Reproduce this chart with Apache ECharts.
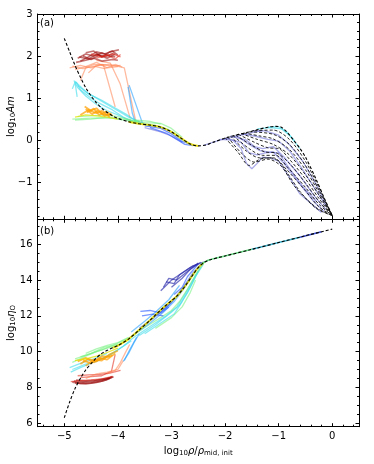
<!DOCTYPE html>
<html>
<head>
<meta charset="utf-8">
<script src="https://cdn.jsdelivr.net/npm/echarts@6/dist/echarts.min.js"></script>
<style>html,body{margin:0;padding:0;background:#fff}#chart{width:374px;height:464px}</style>
</head>
<body>
<div id="chart"></div>
<script>
// ---- data (x = log10 rho/rho_mid,init) ----
var xMajor = [-5, -4, -3, -2, -1, 0];
var topYMajor = [-1, 0, 1, 2, 3];
var botYMajor = [6, 8, 10, 12, 14, 16];

// panel (a): log10 Am
var topMain = [[-5,2.42],[-4.9,2.1],[-4.8,1.78],[-4.7,1.5],[-4.6,1.25],[-4.5,1.05],[-4.4,0.89],[-4.3,0.76],[-4.2,0.66],[-4.1,0.58],[-4,0.52],[-3.8,0.44],[-3.6,0.39],[-3.4,0.36],[-3.2,0.31],[-3,0.2],[-2.8,0.03],[-2.65,-0.09],[-2.5,-0.135],[-2.35,-0.11],[-2.2,-0.04],[-2,0.05],[-1.8,0.12],[-1.6,0.18],[-1.4,0.25],[-1.2,0.31],[-1.05,0.33],[-0.95,0.31],[-0.85,0.2],[-0.72,0],[-0.6,-0.2],[-0.5,-0.4],[-0.3,-0.93],[-0.13,-1.43],[0,-1.79]];
var topFan = [
  [[-1.45,0.23],[-1.1,0.24],[-0.8,0.02],[-0.5,-0.5],[-0.25,-1.12],[0,-1.79]],
  [[-1.55,0.2],[-1.1,0.14],[-0.8,-0.1],[-0.5,-0.6],[-0.25,-1.18],[0,-1.79]],
  [[-1.65,0.17],[-1.35,0.1],[-1.1,0.03],[-0.8,-0.22],[-0.5,-0.7],[-0.25,-1.24],[0,-1.79]],
  [[-1.7,0.16],[-1.4,0.02],[-1.1,-0.1],[-0.8,-0.35],[-0.5,-0.82],[-0.25,-1.3],[0,-1.79]],
  [[-1.75,0.14],[-1.45,-0.05],[-1.2,-0.18],[-1,-0.2],[-0.8,-0.45],[-0.5,-0.92],[-0.25,-1.38],[0,-1.79]],
  [[-1.8,0.12],[-1.5,-0.12],[-1.25,-0.28],[-1.05,-0.3],[-0.8,-0.55],[-0.5,-1.02],[-0.25,-1.45],[0,-1.79]],
  [[-1.85,0.11],[-1.55,-0.2],[-1.3,-0.36],[-1.05,-0.36],[-0.85,-0.62],[-0.5,-1.12],[-0.25,-1.52],[0,-1.79]],
  [[-1.9,0.1],[-1.6,-0.26],[-1.35,-0.42],[-1.1,-0.42],[-0.85,-0.7],[-0.5,-1.2],[-0.25,-1.58],[0,-1.79]],
  [[-1.95,0.08],[-1.7,-0.3],[-1.45,-0.52],[-1.2,-0.45],[-0.95,-0.62],[-0.7,-1.1],[-0.3,-1.6],[0,-1.79]],
  [[-2,0.06],[-1.75,-0.3],[-1.55,-0.6],[-1.35,-0.45],[-1.15,-0.42],[-1,-0.5],[-0.8,-0.85],[-0.6,-1.22],[-0.3,-1.62],[0,-1.79]]
];
var topDarkRed = [
  [[-4.75,1.95],[-4.6,2.05],[-4.45,2],[-4.3,2.08],[-4.15,2],[-4.05,1.98]],
  [[-4.7,1.88],[-4.55,1.98],[-4.4,2.1],[-4.25,2.05],[-4.1,2.12],[-4,2.02]],
  [[-4.65,2],[-4.5,1.92],[-4.35,2.02],[-4.2,1.95],[-4.05,2.05]],
  [[-4.6,2.08],[-4.45,2.12],[-4.3,1.97],[-4.15,2.1],[-3.98,2.15]],
  [[-4.78,1.85],[-4.6,1.9],[-4.45,1.95],[-4.3,1.88],[-4.1,1.92],[-4,1.9]],
  [[-4.72,1.98],[-4.55,1.93],[-4.4,2.04],[-4.22,1.99],[-4.08,2.07]]
];
var topRed = [
  [[-4.5,2.05],[-4.3,1.98],[-4.1,2.05],[-3.95,1.98]],
  [[-4.4,1.95],[-4.2,2.02],[-4.05,1.93],[-3.95,2.04]]
];
var topOrange = [
  [[-4.9,1.72],[-4.7,1.78],[-4.5,1.72],[-4.3,1.8],[-4.1,1.76],[-3.95,1.78]],
  [[-4.8,1.68],[-4.6,1.75],[-4.4,1.85],[-4.2,1.72],[-4,1.75]],
  [[-4.7,1.42],[-4.6,1.72],[-4.45,1.8],[-4.27,1.79],[-4.05,0.79]],
  [[-4.4,1.9],[-4.14,1.83],[-3.96,1.35],[-3.77,0.52]],
  [[-4.55,1.6],[-4.4,1.78],[-4.15,1.8],[-3.88,1.72],[-3.67,0.47]],
  [[-4.85,1.76],[-4.65,1.7],[-4.45,1.76],[-4.25,1.7],[-4.05,1.8],[-3.92,1.74]]
];
var topCyan = [
  [[-4.82,1.42],[-4.75,1.25],[-4.6,1.05],[-4.4,0.85],[-4.2,0.7],[-4,0.6],[-3.8,0.48],[-3.6,0.42]],
  [[-4.8,1.4],[-4.72,1.3],[-4.55,1.1],[-4.3,0.95],[-4.1,0.8],[-3.85,0.62],[-3.65,0.45]],
  [[-4.78,1.38],[-4.7,1.2],[-4.5,1],[-4.35,0.88],[-4.1,0.72],[-3.9,0.55],[-3.7,0.44]],
  [[-4.85,1.22],[-4.8,1.38],[-4.76,1.03]],
  [[-4.75,1.3],[-4.6,1.15],[-4.4,1.0],[-4.2,0.85],[-4,0.7],[-3.8,0.55],[-3.6,0.44]]
];
var topLightBlue = [
  [[-3.81,1.27],[-3.73,0.64],[-3.68,0.45]],
  [[-3.79,1.31],[-3.54,0.4]],
  [[-3.62,0.45],[-3.45,0.36],[-3.3,0.33]]
];
var topOrangeYellow = [
  [[-4.62,0.8],[-4.5,0.7],[-4.4,0.76],[-4.28,0.62],[-4.15,0.6]],
  [[-4.58,0.66],[-4.45,0.75],[-4.35,0.6],[-4.22,0.68],[-4.1,0.58]],
  [[-4.7,0.6],[-4.55,0.72],[-4.4,0.64],[-4.3,0.7],[-4.15,0.55]],
  [[-4.6,0.74],[-4.48,0.62],[-4.38,0.7],[-4.25,0.58],[-4.12,0.64]]
];
var topYellow = [
  [[-4.8,0.55],[-4.6,0.6],[-4.4,0.58],[-4.2,0.55],[-4,0.5]]
];
var topGreen = [
  [[-4.85,0.5],[-4.6,0.52],[-4.35,0.53],[-4.1,0.52],[-3.85,0.47],[-3.6,0.42]],
  [[-4.8,0.48],[-4.5,0.5],[-4.2,0.55],[-3.9,0.5],[-3.6,0.45]],
  [[-3.8,0.46],[-3.5,0.42],[-3.2,0.4],[-3,0.28],[-2.8,0.07]],
  [[-3.7,0.48],[-3.4,0.45],[-3.2,0.38]],
  [[-4.75,0.56],[-4.5,0.58],[-4.25,0.6],[-4,0.56],[-3.75,0.48]]
];
var topMidCyan = [
  [[-3.6,0.4],[-3.3,0.35],[-3.05,0.25],[-2.85,0.05],[-2.65,-0.09]]
];
var topBlue = [
  [[-3.5,0.34],[-3.2,0.28],[-3,0.15],[-2.8,-0.03],[-2.6,-0.12]],
  [[-3.4,0.3],[-3.1,0.17],[-2.9,0.02],[-2.75,-0.1],[-2.6,-0.13]]
];
var topLavender = [
  [[-3.5,0.3],[-3.2,0.2],[-3,0.1],[-2.8,-0.05]],
  [[-2.4,-0.12],[-2.1,0],[-1.8,0.09],[-1.5,0.18],[-1.3,0.23]],
  [[-2.1,0.02],[-1.85,0],[-1.7,-0.2],[-1.6,-0.55],[-1.5,-0.68],[-1.4,-0.55],[-1.3,-0.4],[-1.15,-0.42],[-1,-0.5],[-0.8,-0.88],[-0.6,-1.28],[-0.4,-1.5],[-0.2,-1.72]],
  [[-2,0.05],[-1.7,-0.05],[-1.55,-0.3],[-1.4,-0.35],[-1.25,-0.3],[-1.1,-0.28],[-0.9,-0.55],[-0.6,-1.05],[-0.35,-1.45],[-0.15,-1.7]],
  [[-1.9,0.1],[-1.6,0],[-1.45,-0.15],[-1.3,-0.2],[-1.1,-0.15],[-0.9,-0.4],[-0.6,-0.85],[-0.35,-1.3],[-0.12,-1.65]],
  [[-1.7,0.15],[-1.45,0.1],[-1.2,0.02],[-1,-0.02],[-0.8,-0.25],[-0.55,-0.7],[-0.3,-1.2],[-0.1,-1.6]],
  [[-1.5,0.22],[-1.25,0.22],[-1,0.12],[-0.8,-0.1],[-0.55,-0.5],[-0.3,-1.05],[-0.1,-1.55]],
  [[-1.8,0.12],[-1.55,-0.1],[-1.35,-0.25],[-1.2,-0.28],[-1,-0.3],[-0.85,-0.58],[-0.55,-1.1],[-0.3,-1.45]]
];
var topFanCyan = [
  [[-1.4,0.27],[-1.15,0.3],[-0.95,0.27],[-0.8,0.12],[-0.6,-0.2]],
  [[-1.2,0.31],[-1,0.32],[-0.85,0.2],[-0.7,-0.02]]
];

// panel (b): log10 eta_O
var botMain = [[-5,6.3],[-4.9,7.18],[-4.8,7.93],[-4.7,8.5],[-4.6,8.97],[-4.5,9.33],[-4.4,9.65],[-4.3,9.9],[-4.2,10.07],[-4.1,10.21],[-4,10.34],[-3.8,10.7],[-3.6,11.22],[-3.4,11.75],[-3.2,12.33],[-3,12.85],[-2.9,13.1],[-2.8,13.45],[-2.7,13.85],[-2.6,14.3],[-2.5,14.7],[-2.4,14.97],[-2.3,15.12],[-2,15.35],[-1.5,15.72],[-1,16.1],[-0.5,16.48],[0,16.85]];
var botDarkRed = [
  [[-4.85,8.3],[-4.7,8.22],[-4.5,8.25],[-4.3,8.35],[-4.15,8.5]],
  [[-4.82,8.35],[-4.65,8.3],[-4.45,8.35],[-4.28,8.45],[-4.12,8.55]],
  [[-4.8,8.25],[-4.6,8.2],[-4.4,8.28],[-4.22,8.42],[-4.1,8.6]],
  [[-4.78,8.4],[-4.6,8.36],[-4.4,8.4],[-4.2,8.5],[-4.08,8.58]]
];
var botRed = [
  [[-4.88,8.32],[-4.7,8.38],[-4.5,8.42],[-4.3,8.48],[-4.1,8.62]],
  [[-4.75,8.65],[-4.55,8.7],[-4.35,8.72],[-4.15,8.8],[-3.95,8.95]],
  [[-4.7,8.55],[-4.5,8.6],[-4.3,8.65],[-4.12,8.9],[-4.05,9.85]]
];
var botOrange = [
  [[-4.2,8.75],[-4.05,8.95],[-3.95,9.4],[-3.85,10],[-3.78,10.4]],
  [[-4.6,8.5],[-4.4,8.75],[-4.2,8.85],[-4,9],[-3.9,9.5]]
];
var botOrangeYellow = [
  [[-4.7,9.3],[-4.55,9.6],[-4.4,9.45],[-4.3,9.75],[-4.15,9.7]],
  [[-4.65,9.5],[-4.5,9.35],[-4.35,9.65],[-4.2,9.55],[-4.05,9.9]],
  [[-4.6,9.2],[-4.45,9.55],[-4.3,9.5],[-4.15,9.85],[-4,10.05]],
  [[-4.75,9.45],[-4.6,9.65],[-4.45,9.4],[-4.3,9.6],[-4.1,9.8]]
];
var botYellow = [
  [[-4.8,9.5],[-4.6,9.6],[-4.4,9.75],[-4.2,9.95],[-4,10.2]]
];
var botGreen = [
  [[-4.85,9.4],[-4.6,9.75],[-4.4,10],[-4.2,10.2],[-4,10.35],[-3.8,10.7]],
  [[-4.8,9.6],[-4.55,9.85],[-4.3,10.1],[-4.05,10.4],[-3.8,10.75]],
  [[-4.7,9.7],[-4.5,9.9],[-4.25,10.25],[-4,10.4]],
  [[-3.8,10.75],[-3.5,11.35],[-3.2,11.9],[-3,12.3],[-2.85,12.8],[-2.7,13.5],[-2.55,14.3],[-2.4,14.95]],
  [[-3.3,11.3],[-3,11.9],[-2.8,12.5],[-2.65,13.3],[-2.55,14]],
  [[-4.6,9.9],[-4.4,10.15],[-4.2,10.35],[-4,10.5],[-3.8,10.8]]
];
var botCyan = [
  [[-4.88,8.85],[-4.7,9.1],[-4.5,9.35],[-4.3,9.6],[-4.1,9.9],[-3.9,10.3],[-3.7,10.8]],
  [[-4.85,9],[-4.6,9.3],[-4.4,9.45],[-4.2,9.75],[-4,10.1],[-3.75,10.6]],
  [[-4.9,9.1],[-4.65,9.4],[-4.45,9.6],[-4.2,9.9]],
  [[-3.7,10.8],[-3.4,11.4],[-3.1,12],[-2.9,12.5],[-2.75,13.2],[-2.6,14],[-2.45,14.75]],
  [[-3.6,10.9],[-3.3,11.5],[-3,12.2],[-2.85,12.6],[-2.7,13.3],[-2.55,14.2],[-2.4,14.9]],
  [[-3.5,11.0],[-3.2,11.6],[-2.95,12.1],[-2.8,12.8],[-2.65,13.6],[-2.5,14.5]]
];
var botLightBlue = [
  [[-3.9,9.45],[-3.8,9.9],[-3.7,10.5],[-3.6,11]],
  [[-3.88,9.5],[-3.78,10.1],[-3.65,10.8]],
  [[-3.7,10.95],[-3.4,11.6],[-3.15,12.2],[-2.95,12.8],[-2.75,13.6],[-2.55,14.5]],
  [[-3.75,11.1],[-3.5,11.7],[-3.3,12.2],[-3.05,12.9],[-2.85,13.7]]
];
var botBlue = [
  [[-3.6,11.3],[-3.35,11.85],[-3.1,12.45],[-2.9,13.1],[-2.7,13.9],[-2.5,14.7],[-2.4,15]],
  [[-3.5,11.5],[-3.25,12.1],[-3,12.75],[-2.8,13.5],[-2.6,14.4],[-2.42,14.98]],
  [[-3.58,12.25],[-3.4,12.3],[-3.2,12.15],[-3.05,12.5]],
  [[-3.55,12],[-3.35,12.1],[-3.15,12]],
  [[-2.95,13.2],[-2.8,13.6],[-2.7,14.2],[-2.5,14.9]]
];
var botDarkBlue = [
  [[-3.2,13.4],[-3.1,13.7],[-3,14],[-2.8,14.4],[-2.6,14.8],[-2.4,15]],
  [[-3.15,13.6],[-3.05,14.1],[-2.9,14],[-2.7,14.5],[-2.5,14.9]],
  [[-3.1,13.9],[-2.95,13.8],[-2.85,14.3],[-2.65,14.7],[-2.45,15]],
  [[-3,13.6],[-2.8,14.1],[-2.65,14.6],[-2.5,14.95]]
];
var botUpperGreen = [[-2.45,14.88],[-2.3,15.12],[-2,15.35],[-1.5,15.72]];
var botUpperTeal = [[-1.5,15.72],[-1,16.1],[-0.6,16.4]];
var botUpperBlue = [[-0.6,16.4],[-0.2,16.7]];

// ---- styling ----
var FONT = "DejaVu Sans";
var COL = {
  darkred: "rgba(150,0,0,0.55)", red: "rgba(225,35,20,0.55)", orange: "rgba(255,130,80,0.55)",
  orangeyellow: "rgba(255,160,0,0.7)", yellow: "rgba(225,225,0,0.75)", green: "rgba(110,240,120,0.55)",
  cyan: "rgba(60,220,235,0.6)", lightblue: "rgba(40,160,255,0.6)", blue: "rgba(30,80,255,0.6)",
  darkblue: "rgba(40,40,170,0.65)", lavender: "rgba(100,100,215,0.55)"
};

function fmt(v) { return String(v).replace("-", "\u2212"); }
function steps(a, b, s) { var o = []; for (var v = a; v <= b + 1e-9; v += s) o.push(Math.round(v * 100) / 100); return o; }

function axis(gi, pos, min, max, ticks, len, line, labels, extra) {
  var a = {
    type: "value", gridIndex: gi, position: pos, min: min, max: max, z: 10,
    axisLine: { show: line, onZero: false, lineStyle: { color: "#000", width: 1 } },
    axisTick: { show: true, inside: true, length: len, customValues: ticks, lineStyle: { color: "#000", width: 1 } },
    axisLabel: labels ? { show: true, customValues: labels, formatter: fmt, color: "#000", fontSize: 10, fontFamily: FONT, margin: 5 } : { show: false },
    splitLine: { show: false }
  };
  return Object.assign(a, extra || {});
}

var subRich = {
  n: { fontSize: 10, fontFamily: FONT, color: "#000", verticalAlign: "bottom", lineHeight: 16 },
  i: { fontSize: 10, fontFamily: FONT, color: "#000", fontStyle: "italic", verticalAlign: "bottom", lineHeight: 16 },
  s: { fontSize: 7, fontFamily: FONT, color: "#000", verticalAlign: "bottom", lineHeight: 8 }
};

var xMinor = steps(-5.4, 0.4, 0.2);
var topYMinor = steps(-1.8, 3, 0.2);
var botYMinor = steps(6, 17, 0.5);

var xAxes = [
  axis(0, "bottom", -5.5, 0.5, xMajor, 3.5, true, null),
  axis(0, "bottom", -5.5, 0.5, xMinor, 2, false, null),
  axis(0, "top", -5.5, 0.5, xMajor, 3.5, true, null),
  axis(0, "top", -5.5, 0.5, xMinor, 2, false, null),
  axis(1, "bottom", -5.5, 0.5, xMajor, 3.5, true, xMajor, {
    name: "{n|log}{s|10}{i|\u03c1}{n|/}{i|\u03c1}{s|mid, init}", nameLocation: "middle", nameGap: 14,
    nameMoveOverlap: false, nameTextStyle: { rich: subRich }
  }),
  axis(1, "bottom", -5.5, 0.5, xMinor, 2, false, null),
  axis(1, "top", -5.5, 0.5, xMajor, 3.5, true, null),
  axis(1, "top", -5.5, 0.5, xMinor, 2, false, null)
];
var yAxes = [
  axis(0, "left", -1.88, 3, topYMajor, 3.5, true, topYMajor, {
    name: "{n|log}{s|10}{i|Am}", nameLocation: "middle", nameGap: 21, nameMoveOverlap: false,
    nameTextStyle: { rich: subRich }
  }),
  axis(0, "left", -1.88, 3, topYMinor, 2, false, null),
  axis(0, "right", -1.88, 3, topYMajor, 3.5, true, null),
  axis(0, "right", -1.88, 3, topYMinor, 2, false, null),
  axis(1, "left", 5.8, 17.4, botYMajor, 3.5, true, botYMajor, {
    name: "{n|log}{s|10}{i|\u03b7}{s|O}", nameLocation: "middle", nameGap: 21, nameMoveOverlap: false,
    nameTextStyle: { rich: subRich }
  }),
  axis(1, "left", 5.8, 17.4, botYMinor, 2, false, null),
  axis(1, "right", 5.8, 17.4, botYMajor, 3.5, true, null),
  axis(1, "right", 5.8, 17.4, botYMinor, 2, false, null)
];

var series = [];
function tracks(list, color, gi, w) {
  list.forEach(function (d) {
    series.push({ type: "line", data: d, xAxisIndex: gi * 4, yAxisIndex: gi * 4, showSymbol: false,
      silent: true, lineStyle: { color: color, width: w || 1.3 }, z: 2 });
  });
}
function curve(d, gi, color, dashed, w, z) {
  series.push({ type: "line", data: d, xAxisIndex: gi * 4, yAxisIndex: gi * 4, showSymbol: false, smooth: 0.3,
    silent: true, lineStyle: { color: color, width: w || 1, type: dashed ? [3, 2] : "solid" }, z: z || 5 });
}

// panel (a)
tracks(topOrange, COL.orange, 0);
tracks(topDarkRed, COL.darkred, 0, 1.6);
tracks(topRed, COL.red, 0);
tracks(topLightBlue, COL.lightblue, 0);
tracks(topCyan, COL.cyan, 0);
tracks(topGreen, COL.green, 0);
tracks(topYellow, COL.yellow, 0);
tracks(topOrangeYellow, COL.orangeyellow, 0, 1.8);
tracks(topMidCyan, COL.cyan, 0);
tracks(topLavender, COL.lavender, 0);
tracks(topBlue, COL.blue, 0);
tracks(topFanCyan, COL.cyan, 0);
curve(topMain.slice(11, 19), 0, "rgba(230,220,0,0.9)", false, 2, 4);
topFan.forEach(function (d) { curve(d, 0, "#111", true, 0.9, 5); });
curve(topMain, 0, "#000", true, 1.1, 6);

// panel (b)
tracks(botDarkRed, COL.darkred, 1, 1.8);
tracks(botRed, COL.red, 1);
tracks(botOrange, COL.orange, 1);
tracks(botCyan, COL.cyan, 1);
tracks(botGreen, COL.green, 1);
tracks(botOrangeYellow, COL.orangeyellow, 1, 1.8);
tracks(botYellow, COL.yellow, 1);
tracks(botLightBlue, COL.lightblue, 1);
tracks(botBlue, COL.blue, 1);
tracks(botDarkBlue, COL.darkblue, 1);
curve(botMain.slice(9, 22), 1, "rgba(230,220,0,0.9)", false, 2, 4);
curve(botUpperGreen, 1, "rgba(90,220,120,0.9)", false, 1.5, 4);
curve(botUpperTeal, 1, "rgba(40,170,200,0.9)", false, 1.5, 4);
curve(botUpperBlue, 1, "rgba(40,60,200,0.9)", false, 1.5, 4);
curve(botMain, 1, "#000", true, 1.1, 6);

var chart = echarts.init(document.getElementById("chart"), null, { renderer: "canvas" });
chart.setOption({
  animation: false,
  backgroundColor: "#fff",
  grid: [
    { left: 37.5, top: 14, width: 321.5, height: 205.3, containLabel: false, outerBoundsMode: "none" },
    { left: 37.5, top: 219.3, width: 321.5, height: 207.4, containLabel: false, outerBoundsMode: "none" }
  ],
  xAxis: xAxes,
  yAxis: yAxes,
  graphic: [
    { type: "text", left: 40, top: 18, style: { text: "(a)", font: "10px " + FONT, fill: "#000" } },
    { type: "text", left: 40, top: 226, style: { text: "(b)", font: "10px " + FONT, fill: "#000" } }
  ],
  series: series
});
</script>
</body>
</html>
